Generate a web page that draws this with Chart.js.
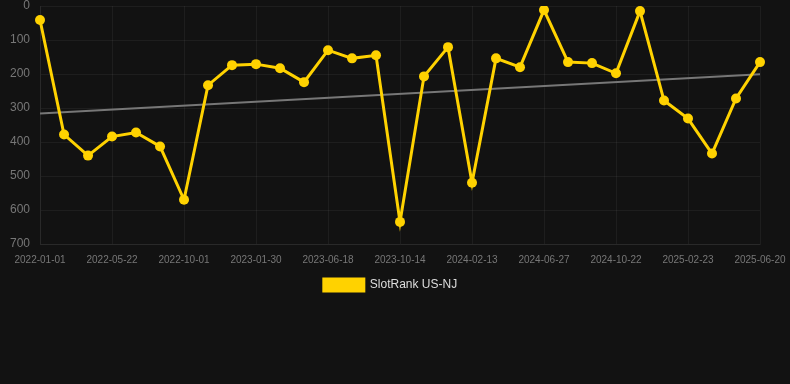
<!DOCTYPE html>
<html>
<head>
<meta charset="utf-8">
<script src="https://cdn.jsdelivr.net/npm/chart.js@4"></script>
<style>
  html, body { margin: 0; padding: 0; background: #121212; }
  #wrap { width: 790px; height: 384px; position: relative; }
</style>
</head>
<body>
<div id="wrap"><canvas id="chart"></canvas></div>
<script>
// dates (only every 3rd is shown as a tick)
const dates = [
    '2022-01-01', '2022-02-17', '2022-04-05', '2022-05-22', '2022-07-08', '2022-08-24',
    '2022-10-01', '2022-11-10', '2022-12-20', '2023-01-30', '2023-03-15', '2023-05-01',
    '2023-06-18', '2023-08-05', '2023-09-20', '2023-10-14', '2023-11-25', '2024-01-05',
    '2024-02-13', '2024-03-30', '2024-05-14', '2024-06-27', '2024-08-10', '2024-09-15',
    '2024-10-22', '2024-12-05', '2025-01-15', '2025-02-23', '2025-04-05', '2025-05-12',
    '2025-06-20'
];
const rankNJ = [
    41, 378, 440, 384, 372, 413, 570, 233, 174, 171, 183, 224, 130, 154, 145, 635,
    207, 121, 520, 154, 180, 12, 165, 168, 198, 15, 278, 331, 434, 272, 165
];
// trend line endpoints
const trendStart = 316;
const trendEnd = 201;
const yTicks = [0, 100, 200, 300, 400, 500, 600, 700];

const trend = dates.map((d, i) => i === 0 ? trendStart : (i === dates.length - 1 ? trendEnd : null));

const gridColor = 'rgba(255,255,255,0.05)';

new Chart(document.getElementById('chart'), {
    type: 'line',
    data: {
        labels: dates,
        datasets: [
            {
                label: 'SlotRank US-NJ',
                data: rankNJ,
                borderColor: '#FFD200',
                backgroundColor: '#FFD200',
                borderWidth: 3,
                pointRadius: 5,
                pointBorderWidth: 0,
                pointHoverRadius: 5,
                tension: 0
            },
            {
                label: 'trend',
                data: trend,
                spanGaps: true,
                borderColor: '#777777',
                borderWidth: 2,
                pointRadius: 0,
                tension: 0
            }
        ]
    },
    options: {
        responsive: true,
        maintainAspectRatio: false,
        animation: false,
        layout: { padding: { left: 0, right: 9, top: 0, bottom: 83 } },
        plugins: {
            legend: {
                position: 'bottom',
                labels: {
                    color: '#dddddd',
                    boxWidth: 40,
                    boxHeight: 12,
                    padding: 3,
                    font: { family: 'Liberation Sans, Arial, sans-serif', size: 12 },
                    filter: item => item.text !== 'trend'
                }
            },
            tooltip: { enabled: false }
        },
        scales: {
            x: {
                grid: { color: gridColor, drawTicks: false },
                border: { color: gridColor },
                afterFit: scale => { scale.paddingRight = 30; },
                ticks: {
                    color: '#777777',
                    font: { family: 'Liberation Sans, Arial, sans-serif', size: 10 },
                    autoSkip: false,
                    maxRotation: 0,
                    padding: 10,
                    callback: function (val, i) { return i % 3 === 0 ? dates[i] : null; }
                }
            },
            y: {
                reverse: true,
                min: 0,
                max: 700,
                grid: { color: gridColor, drawTicks: false },
                border: { color: gridColor },
                afterBuildTicks: axis => { axis.ticks = yTicks.map(v => ({ value: v })); },
                afterFit: scale => { scale.paddingTop = 6; },
                ticks: {
                    color: '#777777',
                    font: { family: 'Liberation Sans, Arial, sans-serif', size: 12 },
                    padding: 10
                }
            }
        }
    }
});
</script>
</body>
</html>
